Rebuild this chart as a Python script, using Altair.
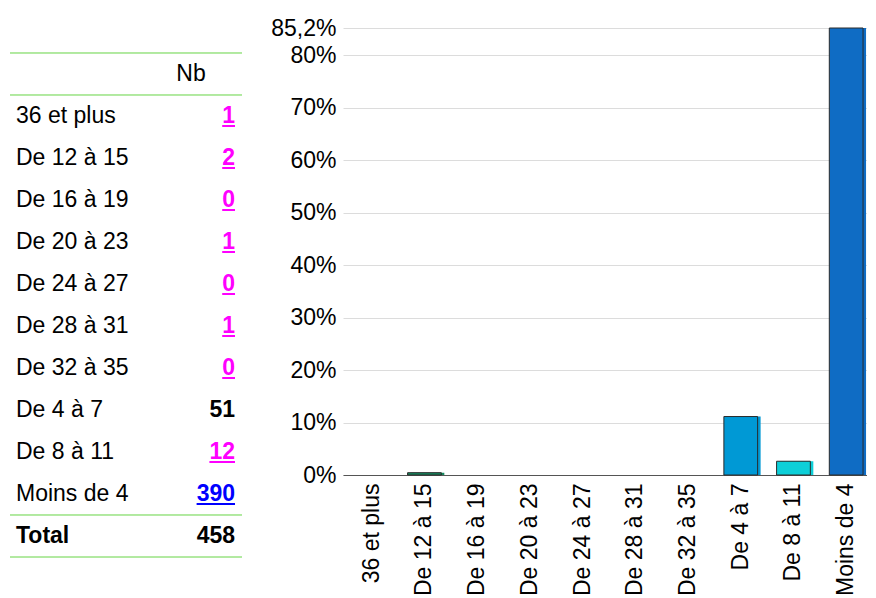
import altair as alt
import pandas as pd

categories = ["36 et plus", "De 12 à 15", "De 16 à 19", "De 20 à 23", "De 24 à 27",
              "De 28 à 31", "De 32 à 35", "De 4 à 7", "De 8 à 11", "Moins de 4"]
counts = [1, 2, 0, 1, 0, 1, 0, 51, 12, 390]
count_colors = ["#ff00ff"] * 7 + ["#000000", "#ff00ff", "#0000ff"]
underlined = [True] * 7 + [False, True, True]
bar_colors = ["#1f8a66", "#14895f", "#2f9a78", "#3aa383", "#45ab8e", "#52b39a", "#60bca6",
              "#0099d5", "#0dcfd8", "#0f6cc4"]
header_label = "Nb"
total_label = "Total"
y_ticks = [0, 0.1, 0.2, 0.3, 0.4, 0.5, 0.6, 0.7, 0.8]

FONT = "Liberation Sans"
FS = 23
GREEN = "#66d444"

total = sum(counts)
HEADER_KEY = " "
rows_order = [HEADER_KEY] + categories + [total_label]

# ---------------- table ----------------
tdf = pd.DataFrame({
    "row": categories,
    "num": [str(c) for c in counts],
    "ncolor": count_colors,
    "ul": underlined,
})
tot_df = pd.DataFrame({"row": [total_label], "num": [str(total)], "ncolor": ["#000000"], "ul": [False]})
hdr_df = pd.DataFrame({"row": [HEADER_KEY], "num": [header_label], "ncolor": ["#000000"], "ul": [False]})
all_df = pd.concat([hdr_df, tdf, tot_df], ignore_index=True)

yscale = alt.Scale(paddingInner=0, paddingOuter=0.2976, align=1)


def ypos(bp=0.5):
    return alt.Y("row:N", sort=rows_order, axis=None, scale=yscale, bandPosition=bp)


LX = 8
NX = 227
base = alt.Chart(all_df)

labels = base.transform_filter(
    alt.FieldOneOfPredicate(field="row", oneOf=categories)
).mark_text(align="left", baseline="middle", fontSize=FS, font=FONT, color="#000000").encode(
    x=alt.value(LX), y=ypos(), text="row:N")

total_lbl = base.transform_filter(alt.datum.row == total_label).mark_text(
    align="left", baseline="middle", fontSize=FS, font=FONT, fontWeight="bold", color="#000000"
).encode(x=alt.value(LX), y=ypos(), text="row:N")

nums = base.transform_filter(alt.datum.row != HEADER_KEY).mark_text(
    align="right", baseline="middle", fontSize=FS, font=FONT, fontWeight="bold"
).encode(x=alt.value(NX), y=ypos(), text="num:N", color=alt.Color("ncolor:N", scale=None))

hdr = base.transform_filter(alt.datum.row == HEADER_KEY).mark_text(
    align="center", baseline="middle", fontSize=FS, font=FONT, color="#000000"
).encode(x=alt.value(183), y=ypos(), text="num:N")

ulines = base.transform_filter(alt.datum.ul == True).transform_calculate(
    ux1=f"{NX} - 12.8 * length(datum.num)", ux2=f"{NX}"
).mark_rule(strokeWidth=2, yOffset=10).encode(
    x=alt.X("ux1:Q", scale=None), x2="ux2:Q", y=ypos(), color=alt.Color("ncolor:N", scale=None))

sep_rows = [HEADER_KEY, total_label]
top_lines = base.transform_filter(alt.FieldOneOfPredicate(field="row", oneOf=sep_rows)).mark_rule(
    color=GREEN, strokeWidth=1).encode(x=alt.value(2), x2=alt.value(234), y=ypos(0))
bot_lines = base.transform_filter(alt.FieldOneOfPredicate(field="row", oneOf=sep_rows)).mark_rule(
    color=GREEN, strokeWidth=1).encode(x=alt.value(2), x2=alt.value(234), y=ypos(1))

table = alt.layer(top_lines, bot_lines, labels, total_lbl, hdr, nums, ulines).properties(
    width=240, height=529)

# ---------------- bars ----------------
bdf = pd.DataFrame({"cat": categories, "count": counts, "bcolor": bar_colors})
bdf["pct"] = bdf["count"] / total
maxp = max(bdf["pct"])

xenc = alt.X("cat:N", sort=categories, title=None,
             scale=alt.Scale(paddingInner=0.36, paddingOuter=0.15, align=0.75),
             axis=alt.Axis(labelAngle=270, ticks=False, labelPadding=8, labelFontSize=FS,
                           labelFont=FONT, labelColor="#000000", domainColor="#555555",
                           domainWidth=1, labelBaseline="middle", labelLimit=0))
yenc = alt.Y("pct:Q", title=None, scale=alt.Scale(domain=[0, maxp], nice=False, zero=True),
             axis=alt.Axis(values=y_ticks + [maxp], domain=False, ticks=False, labelPadding=7,
                           labelFontSize=FS, labelFont=FONT, labelColor="#000000",
                           gridColor="#dcdcdc", gridWidth=1, labelOverlap=False,
                           labelExpr="datum.value > 0.81 ? replace(format(datum.value, '.1%'), '.', ',') : format(datum.value, '.0%')"))

bbase = alt.Chart(bdf).encode(x=xenc, y=yenc)
visible = alt.datum.pct >= 0.004
shadow = bbase.transform_filter(visible).mark_bar(xOffset=3).encode(
    fill=alt.Fill("bcolor:N", scale=None))
bars_main = bbase.transform_filter(visible).mark_bar(stroke="#2a2a2a", strokeWidth=1).encode(
    fill=alt.Fill("bcolor:N", scale=None))
xaxis_holder = bbase.mark_bar(opacity=0).encode(y=alt.value(447), y2=alt.value(447))

bars = alt.layer(xaxis_holder, shadow, bars_main).properties(width=524, height=447)

chart = alt.hconcat(table, bars, spacing=22).properties(
    padding={"left": 0, "top": 9, "right": 0, "bottom": 0}
).configure(font=FONT, view=alt.ViewConfig(strokeWidth=0, stroke="transparent"))

chart.save("out.html", embed_options={"renderer": "svg", "actions": False})
